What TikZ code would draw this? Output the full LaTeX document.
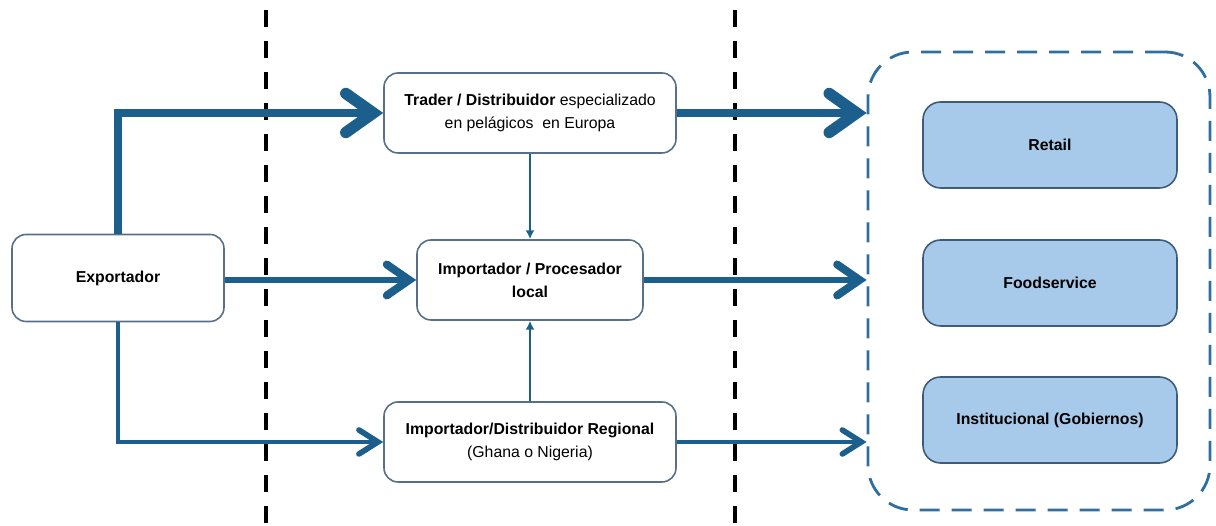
\documentclass[tikz,border=0pt]{standalone}
\usepackage{fontspec}
\setmainfont{Liberation Sans}
\usetikzlibrary{arrows.meta, positioning}
\definecolor{flowblue}{RGB}{28,94,140}
\definecolor{boxline}{RGB}{88,112,135}
\definecolor{segfill}{RGB}{168,202,234}
\definecolor{segline}{RGB}{62,92,122}
\definecolor{groupline}{RGB}{46,110,160}
\tikzstyle{actor} = [rectangle, rounded corners=8pt, minimum width=5.84cm, minimum height=1.6cm, text centered, align=center, draw=boxline, line width=0.9pt, fill=white, font=\fontsize{9}{13}\selectfont]
\tikzstyle{segment} = [rectangle, rounded corners=10pt, minimum width=5.08cm, minimum height=1.72cm, text centered, align=center, draw=segline, line width=0.9pt, fill=segfill, font=\fontsize{9}{13}\selectfont\bfseries]
\tikzstyle{group} = [rectangle, rounded corners=0.9cm, minimum width=6.84cm, minimum height=9.16cm, draw=groupline, line width=1.6pt, dash pattern=on 0.4cm off 0.24cm]
\tikzstyle{border} = [line width=2.8pt, dash pattern=on 0.34cm off 0.28cm]
\tikzstyle{bigflow} = [flowblue, line width=5pt, -{Straight Barb[length=0.55cm, width=0.78cm, line width=6.5pt, line cap=round]}]
\tikzstyle{midflow} = [flowblue, line width=3pt, -{Straight Barb[length=0.45cm, width=0.62cm, line width=4.5pt, line cap=round]}]
\tikzstyle{smallflow} = [flowblue, line width=2pt, -{Straight Barb[length=0.38cm, width=0.48cm, line width=3.2pt, line cap=round]}]
\tikzstyle{link} = [flowblue, line width=1.1pt, -{Latex[length=5pt, width=5pt]}]

\begin{document}
\begin{tikzpicture}[node distance=3.3cm]
\useasboundingbox (0,0) rectangle (24.32,10.52);

% separadores
\draw [border] (5.32,10.32) -- (5.32,0);
\draw [border] (14.7,10.32) -- (14.7,0);

% actores
\node (export) [actor, minimum width=4.24cm, minimum height=1.74cm] at (2.36,4.96) {\textbf{Exportador}};
\node (local) [actor, minimum width=4.52cm, right of=export, xshift=4.94cm, yshift=-0.04cm] {\textbf{Importador / Procesador}\\\textbf{local}};
\node (trader) [actor, above of=local, yshift=0.04cm] {\textbf{Trader / Distribuidor} especializado\\en pelágicos\ \ en Europa};
\node (regional) [actor, below of=local, yshift=0.06cm] {\textbf{Importador/Distribuidor Regional}\\(Ghana o Nigeria)};

% mercado
\node (mercado) [group] at (20.78,4.9) {};
\node (retail) [segment] at (21.0,7.62) {Retail};
\node (food) [segment, below of=retail, yshift=0.54cm] {Foodservice};
\node (inst) [segment, below of=food, yshift=0.56cm] {Institucional (Gobiernos)};

% flujos
\draw [bigflow] (export.north) |- (trader.west);
\draw [midflow] (export.east |- local.west) -- (local.west);
\draw [smallflow] (export.south) |- (regional.west);
\draw [bigflow] (trader.east) -- (trader.east -| mercado.west);
\draw [midflow] (local.east) -- (local.east -| mercado.west);
\draw [smallflow] (regional.east) -- (regional.east -| mercado.west);
\draw [link] (trader.south) -- (local.north);
\draw [link] (regional.north) -- (local.south);
\end{tikzpicture}
\end{document}
